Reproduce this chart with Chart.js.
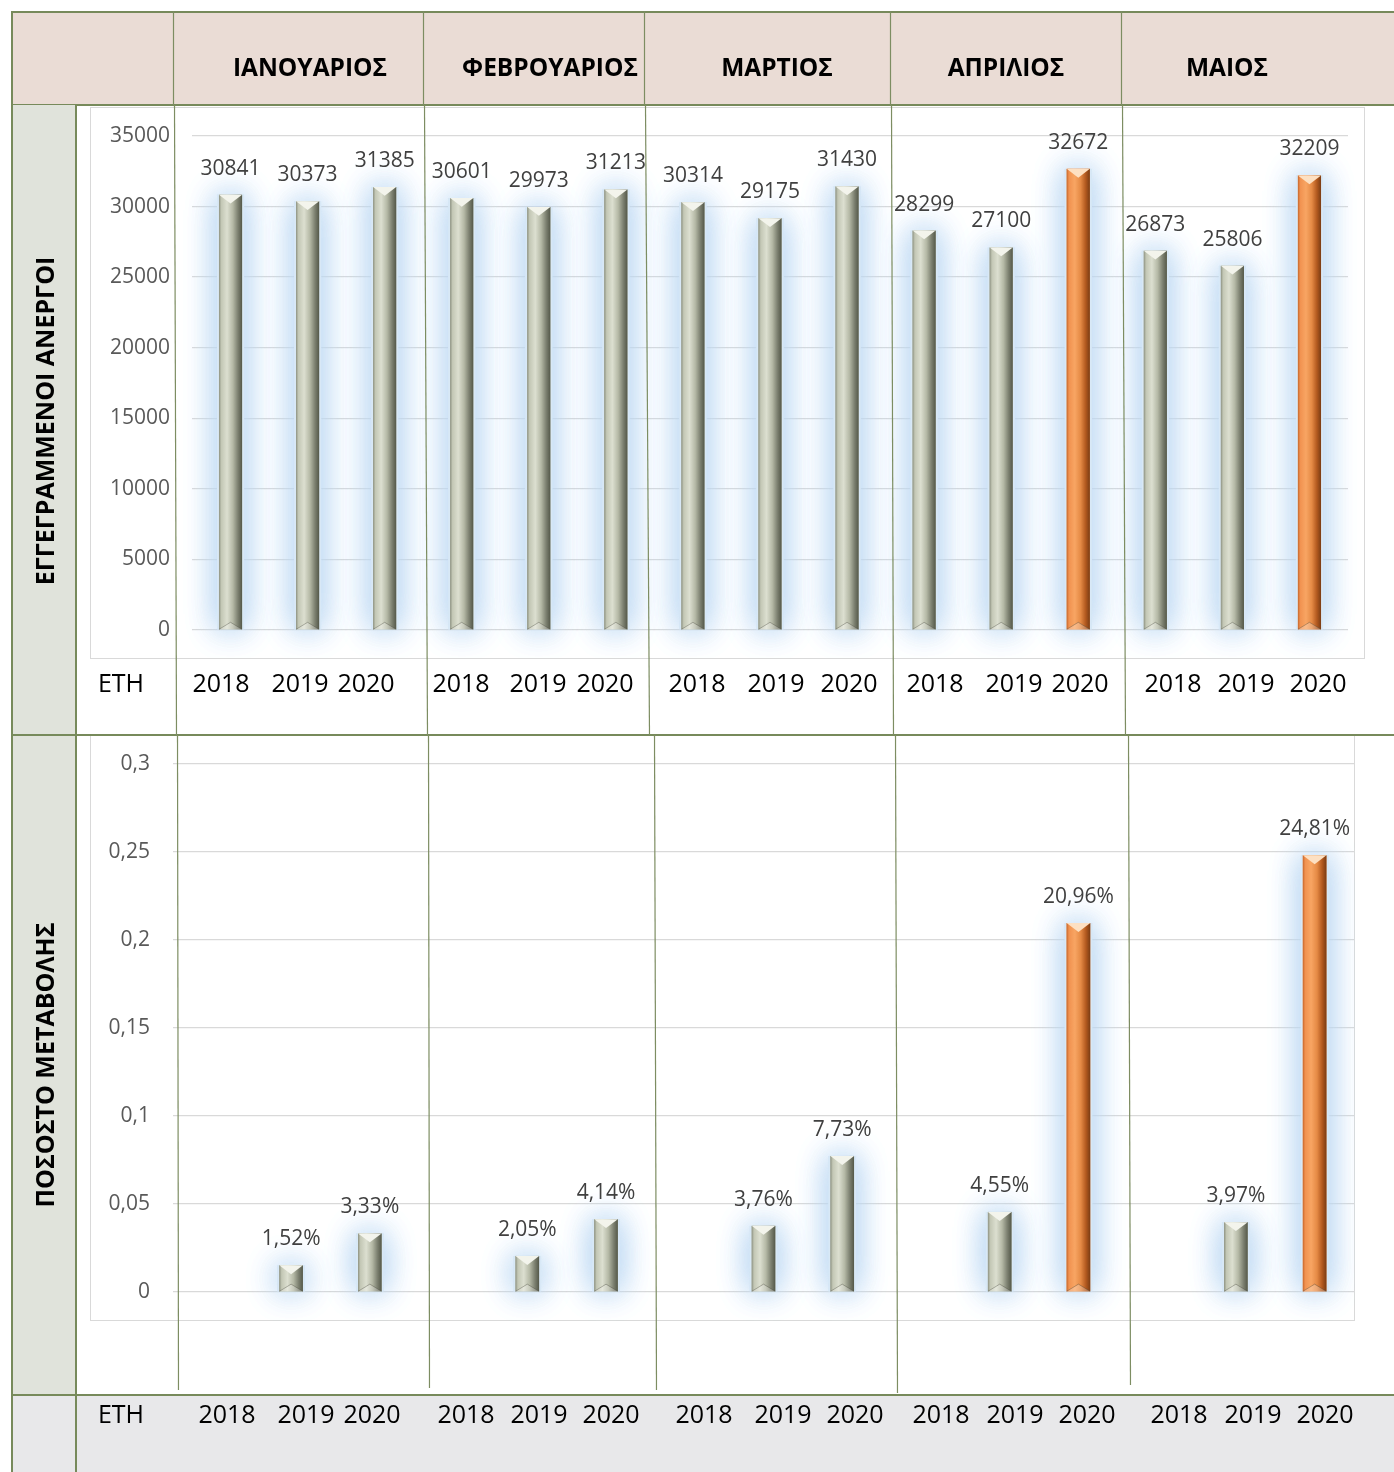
<!DOCTYPE html>
<html>
<head>
<meta charset="utf-8">
<script src="https://cdn.jsdelivr.net/npm/chart.js@4.4.1/dist/chart.umd.min.js"></script>
<style>
  body { margin: 0; background: #fff; font-family: 'Open Sans', sans-serif; }
  #page { position: relative; width: 1394px; height: 1472px; overflow: hidden; }
  .abs { position: absolute; }
  .month { position: absolute; top: 50px; font-weight: bold; font-size: 24.5px; color: #000; transform: translateX(-50%); white-space: nowrap; }
  .side { position: absolute; font-weight: bold; font-size: 25px; color: #000; white-space: nowrap; transform: translate(-50%, -50%) rotate(-90deg); }
  .yr { position: absolute; font-size: 25px; color: #000; transform: translate(-50%, -50%); white-space: nowrap; }
  .box { position: absolute; border: 1.5px solid #d9d9d9; box-sizing: border-box; }
  canvas { position: absolute; }
</style>
</head>
<body>
<div id="page">
  <div class="abs" style="left:11px;top:11px;width:1383px;height:95px;background:#eadcd5;border-top:2px solid #778a5b;border-left:2px solid #778a5b;border-bottom:2px solid #778a5b;box-sizing:border-box;"></div>
  <div class="abs" style="left:11px;top:105px;width:66px;height:1290px;background:#e0e3db;border-left:2px solid #778a5b;border-right:2px solid #778a5b;box-sizing:border-box;"></div>
  <div class="abs" style="left:11px;top:1394px;width:1383px;height:78px;background:#e8e8ea;border-top:2px solid #778a5b;border-left:2px solid #778a5b;box-sizing:border-box;"></div>
  <div class="abs" style="left:75px;top:1394px;width:2px;height:78px;background:#778a5b;"></div>

  <div class="box" style="left:90px;top:107px;width:1275px;height:552px;"></div>
  <canvas id="topChart" width="1275" height="551" style="left:90px;top:107px;"></canvas>
  <div class="box" style="left:90px;top:735px;width:1265px;height:586px;"></div>
  <canvas id="bottomChart" width="1265" height="586" style="left:90px;top:735px;"></canvas>

  <div class="abs" style="left:11px;top:734px;width:1383px;height:2px;background:#778a5b;"></div>

  <svg class="abs" id="dividers" style="left:0;top:0;" width="1394" height="1472"></svg>

  <div id="labels"></div>
</div>

<script>
const months = ['ΙΑΝΟΥΑΡΙΟΣ', 'ΦΕΒΡΟΥΑΡΙΟΣ', 'ΜΑΡΤΙΟΣ', 'ΑΠΡΙΛΙΟΣ', 'ΜΑΙΟΣ'];
const years = ['2018', '2019', '2020'];
const unemployed = [30841, 30373, 31385, 30601, 29973, 31213, 30314, 29175, 31430, 28299, 27100, 32672, 26873, 25806, 32209];
const changeRate = [null, 0.0152, 0.0333, null, 0.0205, 0.0414, null, 0.0376, 0.0773, null, 0.0455, 0.2096, null, 0.0397, 0.2481];
const highlightMonths = ['ΑΠΡΙΛΙΟΣ', 'ΜΑΙΟΣ'];
const highlightYear = '2020';
const yearsLabel = 'ΕΤΗ';
const topTitle = 'ΕΓΓΕΓΡΑΜΜΕΝΟΙ ΑΝΕΡΓΟΙ';
const bottomTitle = 'ΠΟΣΟΣΤΟ ΜΕΤΑΒΟΛΗΣ';

// layout only
const monthX = [310, 550, 777, 1006, 1227];
const topYearX = [221, 300, 366, 461, 538, 605, 697, 776, 849, 935, 1014, 1080, 1173, 1246, 1318];
const bottomYearX = [227, 306, 372, 466, 539, 611, 704, 783, 855, 941, 1015, 1087, 1179, 1253, 1325];
const dividerLines = [
  [173, 11, 173, 105], [174, 105, 176, 735], [177, 735, 178, 1390],
  [423, 11, 423, 105], [424, 105, 427, 735], [428, 735, 429, 1388],
  [644, 11, 644, 105], [645, 105, 649, 735], [654, 735, 656, 1390],
  [890, 11, 890, 105], [891, 105, 893, 735], [895, 735, 897, 1393],
  [1121, 11, 1121, 105], [1122, 105, 1125, 735], [1128, 735, 1130, 1385]
];

const categories = months.flatMap(m => years.map(y => m + ' ' + y));
const isHighlight = months.flatMap(m => years.map(y => y === highlightYear && highlightMonths.includes(m)));

// table texts
const labelsDiv = document.getElementById('labels');
let html = '';
months.forEach((m, i) => { html += `<div class="month" style="left:${monthX[i]}px">${m}</div>`; });
html += `<div class="side" style="left:44px;top:421px">${topTitle}</div>`;
html += `<div class="side" style="left:44px;top:1065px">${bottomTitle}</div>`;
html += `<div class="yr" style="left:121px;top:682px">${yearsLabel}</div>`;
html += `<div class="yr" style="left:121px;top:1413px">${yearsLabel}</div>`;
categories.forEach((c, i) => {
  const y = years[i % years.length];
  html += `<div class="yr" style="left:${topYearX[i]}px;top:682px">${y}</div>`;
  html += `<div class="yr" style="left:${bottomYearX[i]}px;top:1413px">${y}</div>`;
});
labelsDiv.innerHTML = html;

document.getElementById('dividers').innerHTML = dividerLines.map(l =>
  `<line x1="${l[0] + 0.5}" y1="${l[1]}" x2="${l[2] + 0.5}" y2="${l[3]}" stroke="#7d8d62" stroke-width="1.2"/>`).join('');

Chart.defaults.font.family = "'Open Sans', sans-serif";

const grayStops = [[0, '#8d9282'], [0.1, '#c3c7b5'], [0.35, '#dcdfd0'], [0.6, '#b5b9a6'], [0.82, '#7c8070'], [1, '#545849']];
const orangeStops = [[0, '#c8672c'], [0.1, '#f19250'], [0.35, '#f8a563'], [0.6, '#e58a45'], [0.82, '#b2591f'], [1, '#7a3c14']];

function barBox(bar) {
  const p = bar.getProps(['x', 'y', 'base', 'width'], true);
  return { x: p.x, left: p.x - p.width / 2, top: p.y, base: p.base, w: p.width, h: p.base - p.y };
}

const bevelBars = {
  id: 'bevelBars',
  beforeDatasetsDraw(chart) {
    // soft blue glow behind the bars
    const ctx = chart.ctx;
    const ds = chart.data.datasets[0];
    ctx.save();
    ctx.shadowColor = 'rgba(188,216,243,1)';
    ctx.shadowBlur = 32;
    ctx.fillStyle = '#d8e8f6';
    chart.getDatasetMeta(0).data.forEach((bar, i) => {
      if (ds.data[i] == null) return;
      const b = barBox(bar);
      ctx.fillRect(b.left - 2, b.top, b.w + 4, b.h);
      ctx.fillRect(b.left - 2, b.top, b.w + 4, b.h);
    });
    ctx.restore();
  },
  afterDatasetsDraw(chart, args, opts) {
    const ctx = chart.ctx;
    ctx.save();
    const ds = chart.data.datasets[0];
    chart.getDatasetMeta(0).data.forEach((bar, i) => {
      const v = ds.data[i];
      if (v == null) return;
      const b = barBox(bar);
      const stops = isHighlight[i] ? orangeStops : grayStops;
      const g = ctx.createLinearGradient(b.left, 0, b.left + b.w, 0);
      stops.forEach(s => g.addColorStop(s[0], s[1]));
      ctx.fillStyle = g;
      ctx.fillRect(b.left, b.top, b.w, b.h);
      const th = Math.min(b.w * 0.38, b.h / 2);
      ctx.fillStyle = isHighlight[i] ? '#fde0c2' : '#f3f4ec';
      ctx.beginPath();
      ctx.moveTo(b.left, b.top); ctx.lineTo(b.left + b.w, b.top); ctx.lineTo(b.x, b.top + th); ctx.closePath();
      ctx.fill();
      ctx.fillStyle = 'rgba(255,255,255,0.25)';
      ctx.strokeStyle = 'rgba(60,60,50,0.35)';
      ctx.lineWidth = 1;
      ctx.beginPath();
      ctx.moveTo(b.left, b.base); ctx.lineTo(b.x, b.base - th * 0.8); ctx.lineTo(b.left + b.w, b.base);
      ctx.fill();
      ctx.stroke();
      ctx.font = '21px "Open Sans"';
      ctx.fillStyle = '#404040';
      ctx.textAlign = 'center';
      ctx.textBaseline = 'middle';
      ctx.fillText(opts.format(v), b.x, b.top - opts.offset);
    });
    ctx.restore();
  }
};

function makeChart(id, values, max, step, axisWidth, tickPad, padding, tickFmt, labelFmt) {
  return new Chart(document.getElementById(id), {
    type: 'bar',
    data: {
      labels: categories,
      datasets: [{
        data: values,
        backgroundColor: isHighlight.map(h => h ? '#e58a45' : '#b5b9a6'),
        borderWidth: 0,
        barPercentage: 0.3,
        categoryPercentage: 1
      }]
    },
    options: {
      responsive: false,
      devicePixelRatio: 1,
      animation: false,
      layout: { padding: padding },
      plugins: {
        legend: { display: false },
        tooltip: { enabled: false },
        bevelBars: { format: labelFmt, offset: 26 }
      },
      scales: {
        x: { display: false },
        y: {
          min: 0, max: max,
          border: { display: false },
          grid: { color: '#d9d9d9', lineWidth: 1.3, drawTicks: false },
          ticks: { stepSize: step, padding: tickPad, color: '#595959', font: { size: 21 }, callback: tickFmt },
          afterFit(scale) {
            scale.width = axisWidth;
            scale.paddingTop = 0;
            scale.paddingBottom = 0;
          }
        }
      }
    },
    plugins: [bevelBars]
  });
}

makeChart('topChart', unemployed, 35000, 5000, 102, 22,
  { left: 0, right: 17, top: 29, bottom: 28 },
  v => String(v), v => String(v));

makeChart('bottomChart', changeRate, 0.3, 0.05, 83, 23,
  { left: 0, right: 1, top: 29, bottom: 29 },
  v => String(+v.toFixed(2)).replace('.', ','),
  v => (v * 100).toFixed(2).replace('.', ',') + '%');
</script>
</body>
</html>
